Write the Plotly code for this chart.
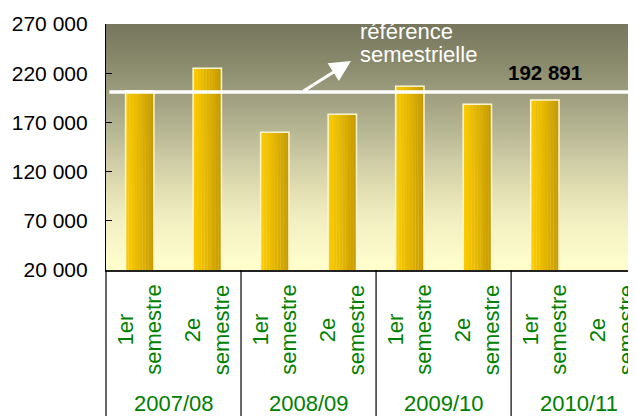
import plotly.graph_objects as go

# ---------------- data ----------------
years = ["2007/08", "2008/09", "2009/10", "2010/11"]
semesters = ["1er<br>semestre", "2e<br>semestre"]
values = [202200, 225000, 159900, 178200, 206700, 188400, 192891]
ref_value = 200900
ref_label_lines = ["référence", "semestrielle"]
last_label = "192 891"
y_tickvals = [20000, 70000, 120000, 170000, 220000, 270000]
y_ticktext = ["20 000", "70 000", "120 000", "170 000", "220 000", "270 000"]

# ---------------- layout constants (window pixel coords) ----------------
WIN_W, WIN_H = 636, 416
OFF = 8  # page body margin
W, H = WIN_W + OFF, WIN_H + OFF
PLOT_L, PLOT_R, PLOT_T, PLOT_B = 106, 636, 24, 270
ML, MT = PLOT_L - OFF, PLOT_T - OFF
MR, MB = W - (PLOT_R - OFF), H - (PLOT_B - OFF)
X_RANGE = [-0.5, 7.35]
Y_RANGE = [20000, 270000]
FONT = "Liberation Sans, Arial, sans-serif"
GREEN = "#008000"

n_slots = len(years) * len(semesters)
slot_x = list(range(n_slots))
bar_x = slot_x[:len(values)]
slot_labels = [semesters[i % len(semesters)] for i in range(n_slots)]

def px_to_paper_y(py):
    return (PLOT_B - py) / (PLOT_B - PLOT_T)

def px_to_paper_x(px):
    return (px - PLOT_L) / (PLOT_R - PLOT_L)

def x_to_paper(x):
    return (x - X_RANGE[0]) / (X_RANGE[1] - X_RANGE[0])

fig = go.Figure()

# background gradient (base axes)
fig.add_trace(go.Scatter(
    x=[X_RANGE[0], 8, 8, X_RANGE[0], X_RANGE[0]],
    y=[Y_RANGE[0], Y_RANGE[0], Y_RANGE[1], Y_RANGE[1], Y_RANGE[0]],
    mode="lines", line=dict(width=0), fill="toself",
    fillgradient=dict(
        type="vertical", start=Y_RANGE[0], stop=Y_RANGE[1],
        colorscale=[
            [0.00, "#FFFFCC"], [0.08, "#FBF9CA"], [0.20, "#F2EFC2"],
            [0.32, "#E3DFB3"], [0.45, "#CDCBA5"], [0.57, "#B6B693"],
            [0.71, "#9E9E80"], [0.85, "#88886B"], [1.00, "#77775E"],
        ]),
    hoverinfo="skip", showlegend=False,
))

# gradient bars made of vertical strips (overlay axes so bars sit above the background)
def lerp(c1, c2, t):
    a = [int(c1[i:i + 2], 16) for i in (1, 3, 5)]
    b = [int(c2[i:i + 2], 16) for i in (1, 3, 5)]
    return "rgb(%d,%d,%d)" % tuple(round(a[k] + (b[k] - a[k]) * t) for k in range(3))

BW = 0.42
NS = 10
sw = BW / NS
for k in range(NS):
    t = k / (NS - 1)
    col = lerp("#FACA00", "#C69B00", t ** 1.2)
    fig.add_trace(go.Bar(
        x=bar_x, y=values, xaxis="x2", yaxis="y2",
        width=sw * 1.05, offset=-BW / 2 + k * sw,
        marker=dict(color=col, line=dict(width=0)),
        hoverinfo="skip", showlegend=False,
    ))
fig.add_trace(go.Bar(
    x=bar_x, y=values, xaxis="x2", yaxis="y2",
    width=BW, offset=-BW / 2,
    marker=dict(color="rgba(0,0,0,0)", line=dict(color="#FFF6D0", width=1.5)),
    showlegend=False,
))

shapes = []
# reference line
shapes.append(dict(type="line", xref="x", yref="y", x0=-0.45, x1=8, y0=ref_value, y1=ref_value,
                   line=dict(color="white", width=3.5), layer="above"))
# group dividers below the axis
for g in range(len(years)):
    xp = x_to_paper(g * 2 - 0.5)
    shapes.append(dict(type="line", xref="paper", yref="paper", x0=xp, x1=xp,
                       y0=0, y1=px_to_paper_y(WIN_H + 4), line=dict(color="black", width=1.2)))

annotations = []
# semester labels
for i in range(n_slots):
    annotations.append(dict(x=slot_x[i], y=px_to_paper_y(330), xref="x", yref="paper",
                            text=slot_labels[i], textangle=-90, showarrow=False,
                            xanchor="center", yanchor="middle", align="center",
                            font=dict(family=FONT, size=22, color=GREEN)))
# year labels
for g, yr in enumerate(years):
    annotations.append(dict(x=2 * g + 0.5, y=px_to_paper_y(403), xref="x", yref="paper",
                            text=yr, showarrow=False, xanchor="center", yanchor="middle",
                            font=dict(family=FONT, size=22, color=GREEN)))
# value label of last bar
annotations.append(dict(x=bar_x[-1], y=values[-1], xref="x", yref="y", text="<b>%s</b>" % last_label,
                        showarrow=False, yanchor="bottom", yshift=14,
                        font=dict(family=FONT, size=20.5, color="black")))
# reference label text
for line_txt, py in zip(ref_label_lines, [32, 54]):
    annotations.append(dict(x=px_to_paper_x(358), y=px_to_paper_y(py), xref="paper", yref="paper",
                            text=line_txt, showarrow=False, xanchor="left", yanchor="middle",
                            font=dict(family=FONT, size=22, color="white")))
# arrow pointing to the label
annotations.append(dict(x=px_to_paper_x(351), y=px_to_paper_y(61), xref="paper", yref="paper", text="",
                        showarrow=True, ax=-49, ay=31, arrowcolor="white",
                        arrowwidth=3, arrowhead=2, arrowsize=1.4))

fig.update_layout(
    width=W, height=H,
    margin=dict(l=ML, r=MR, t=MT, b=MB, pad=0, autoexpand=False),
    paper_bgcolor="white", plot_bgcolor="#FFFFCC",
    barmode="overlay", showlegend=False,
    xaxis=dict(range=X_RANGE, showticklabels=False, ticks="", showgrid=False, zeroline=False,
               showline=True, linecolor="#222222", linewidth=1.5, fixedrange=True, automargin=False),
    yaxis=dict(range=Y_RANGE, tickvals=y_tickvals, ticktext=y_ticktext, ticks="inside",
               ticklen=6, tickwidth=1, tickcolor="black", showgrid=False, zeroline=False,
               showline=True, linecolor="black", linewidth=1.2, ticklabelstandoff=13,
               automargin=False, tickfont=dict(family=FONT, size=21, color="black")),
    xaxis2=dict(range=X_RANGE, overlaying="x", visible=False, fixedrange=True, automargin=False),
    yaxis2=dict(range=Y_RANGE, overlaying="y", visible=False, automargin=False),
    shapes=shapes, annotations=annotations,
)

fig.write_html("out.html")
